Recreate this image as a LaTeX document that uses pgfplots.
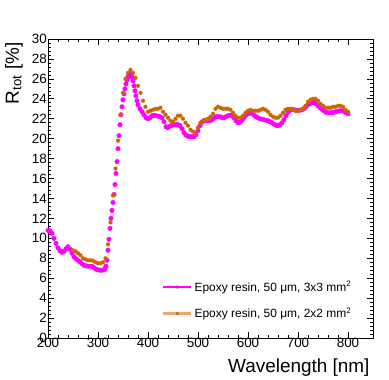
\documentclass[border=0pt]{standalone}
\usepackage{pgfplots}
\pgfplotsset{compat=1.18}
\usepackage{fontspec}
\setmainfont{Liberation Sans}
\definecolor{rmag}{RGB}{255,0,255}
\definecolor{rorg}{RGB}{204,102,0}
\begin{document}
\begin{tikzpicture}
\begin{axis}[
  at={(0,0)}, anchor=south west,
  scale only axis, width=325bp, height=299bp,
  xmin=200, xmax=850, ymin=0, ymax=30,
  xtick={200,300,...,800}, ytick={0,2,...,30},
  minor x tick num=4, minor y tick num=4,
  tick align=inside, xtick pos=both, ytick pos=both,
  major tick length=6bp, minor tick length=3bp,
  tick style={black, line width=0.6bp},
  axis line style={line width=0.8bp},
  /pgf/number format/assume math mode=true,
  /pgf/number format/1000 sep={},
  ticklabel style={font=\fontsize{13.5}{14}\selectfont},
  xticklabel style={inner sep=1bp, yshift=1bp},
  yticklabel style={inner sep=1bp},
  xlabel={Wavelength [nm]},
  ylabel={R\textsubscript{tot} [\%]},
  every axis x label/.style={at={(axis description cs:1,0)}, anchor=north east, yshift=-17bp, font=\fontsize{19}{20}\selectfont},
  every axis y label/.style={at={(axis description cs:-0.105,1)}, rotate=90, anchor=east, font=\fontsize{19}{20}\selectfont},
  legend style={draw=none, fill=none, at={(axis cs:428,5.9)}, anchor=north west, font=\fontsize{12}{13}\selectfont, row sep=11bp, inner sep=0pt},
  legend cell align=left,
  legend image code/.code={\draw[#1, sharp plot, mark size=1.6bp, mark repeat=2, mark phase=2] plot coordinates {(0bp,0bp) (14bp,0bp) (28bp,0bp)};},
]
\addplot[only marks, mark=*, mark size=2.3bp, color=rmag, line width=1.3bp, mark options={line width=0.3bp}] coordinates {
(200,10.8)(204,10.75)(208,10.5)(212,10.0)(216,9.5)(220,9.05)(224,8.75)(228,8.6)(232,8.7)(236,8.95)
(240,9.15)(244,8.9)(248,8.5)(252,8.15)(256,7.95)(260,7.8)(264,7.65)(268,7.45)(272,7.3)(276,7.25)
(280,7.2)(284,7.2)(288,7.2)(292,7.05)(296,6.9)(300,6.85)(304,6.8)(308,6.8)(312,6.85)(314,6.95)
(316,7.2)(318,7.8)(320,8.8)(322,9.9)(324,11.0)(326,12.0)(328,12.8)(330,13.6)(332,14.4)(334,15.4)
(336,16.5)(338,17.7)(340,19.0)(342,20.3)(344,21.4)(346,22.4)(348,23.2)(350,23.9)(352,24.5)(354,25.0)
(356,25.5)(358,25.9)(360,26.2)(362,26.4)(364,26.5)(366,26.45)(368,26.2)(370,25.8)(372,25.3)(374,24.8)
(376,24.3)(378,23.8)(380,23.4)(384,23.0)(388,22.7)(392,22.4)(396,22.1)(400,22.0)(404,22.1)(408,22.3)
(412,22.35)(416,22.3)(420,22.25)(424,22.2)(428,22.1)(432,21.7)(436,21.2)(440,21.1)(444,21.25)(448,21.35)
(452,21.4)(456,21.4)(460,21.4)(464,21.3)(468,21.0)(472,20.6)(476,20.35)(480,20.25)(484,20.2)(488,20.2)
(492,20.2)(496,20.4)(500,20.8)(504,21.3)(508,21.65)(512,21.8)(516,21.8)(520,21.8)(524,21.8)(528,21.9)
(532,22.05)(536,22.2)(540,22.2)(544,22.2)(548,22.1)(552,22.1)(556,22.2)(560,22.3)(564,22.35)(568,22.3)
(572,22.1)(576,21.8)(580,21.6)(584,21.65)(588,21.85)(592,22.1)(596,22.35)(600,22.5)(604,22.6)(608,22.5)
(612,22.35)(616,22.2)(620,22.1)(624,22.0)(628,21.95)(632,21.9)(636,21.85)(640,21.8)(644,21.7)(648,21.6)
(652,21.45)(656,21.35)(660,21.3)(664,21.4)(668,21.6)(672,21.9)(676,22.3)(680,22.65)(684,22.85)(688,22.95)
(692,22.9)(696,22.85)(700,22.85)(704,22.85)(708,22.9)(712,23.0)(716,23.2)(720,23.4)(724,23.5)(728,23.6)
(732,23.65)(736,23.5)(740,23.3)(744,23.1)(748,22.95)(752,22.8)(756,22.65)(760,22.6)(764,22.6)(768,22.6)
(772,22.65)(776,22.7)(780,22.75)(784,22.8)(788,22.8)(792,22.75)(796,22.6)(800,22.5)
};
\addlegendentry{Epoxy resin, 50 μm, 3x3 mm\textsuperscript{2}}
\addplot[only marks, mark=*, mark size=2bp, color=rorg, line width=2.4bp, draw opacity=0.55, mark options={line width=0.3bp}] coordinates {
(250,8.8)(255,8.7)(260,8.5)(265,8.3)(270,8.0)(275,7.9)(280,7.8)(285,7.8)(290,7.75)(295,7.6)
(300,7.5)(305,7.5)(310,7.6)(315,8.0)(320,9.4)(325,11.6)(330,14.3)(335,17.0)(340,19.8)(345,22.4)
(350,24.6)(355,26.0)(360,26.6)(365,26.9)(370,26.6)(375,26.1)(380,25.3)(385,24.6)(390,23.8)(395,23.2)
(400,22.7)(405,22.8)(410,22.9)(415,23.0)(420,23.0)(425,23.1)(430,22.7)(435,22.4)(440,22.1)(445,21.8)
(450,21.7)(455,22.0)(460,22.3)(465,22.3)(470,22.0)(475,21.6)(480,21.3)(485,20.9)(490,20.7)(495,20.6)
(500,21.1)(505,21.6)(510,21.8)(515,21.9)(520,22.0)(525,22.2)(530,22.5)(535,23.0)(540,23.2)(545,23.1)
(550,23.0)(555,23.0)(560,23.0)(565,22.9)(570,22.6)(575,22.3)(580,22.1)(585,22.1)(590,22.3)(595,22.6)
(600,22.8)(605,22.9)(610,22.8)(615,22.8)(620,22.8)(625,22.9)(630,23.0)(635,22.9)(640,22.7)(645,22.4)
(650,22.2)(655,22.1)(660,22.1)(665,22.3)(670,22.6)(675,22.9)(680,23.0)(685,23.0)(690,22.9)(695,22.8)
(700,22.8)(705,22.9)(710,23.0)(715,23.3)(720,23.7)(725,23.9)(730,24.0)(735,24.0)(740,23.8)(745,23.5)
(750,23.3)(755,23.1)(760,23.1)(765,23.1)(770,23.2)(775,23.2)(780,23.3)(785,23.3)(790,23.2)(795,22.9)
(800,22.7)
};
\addlegendentry{Epoxy resin, 50 μm, 2x2 mm\textsuperscript{2}}
\end{axis}
\useasboundingbox (-48bp,-40bp) rectangle (341bp,338bp);
\end{tikzpicture}
\end{document}
